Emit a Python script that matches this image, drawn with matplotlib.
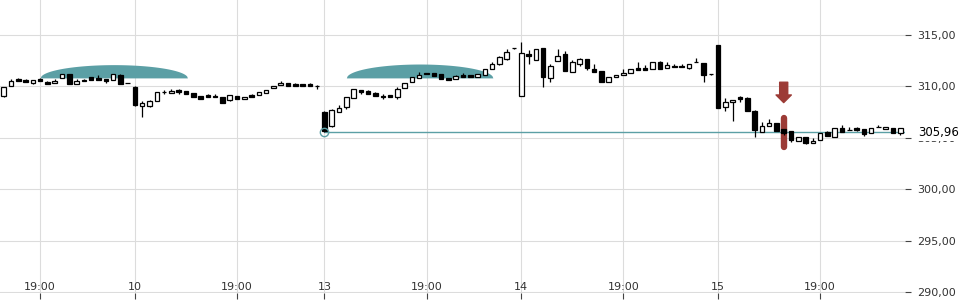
import numpy as np
import matplotlib
matplotlib.use("Agg")
import matplotlib.pyplot as plt
from matplotlib.ticker import FuncFormatter

# candle data (one row per bar, oldest first)
opens = [309.10, 310.02, 310.73, 310.66, 310.34, 310.76, 310.44, 310.30, 310.83, 311.21,
         310.21, 310.66, 310.92, 310.80, 310.73, 310.63, 311.15, 310.31, 309.98, 308.10,
         308.14, 308.60, 309.48, 309.34, 309.66, 309.56, 309.34, 309.08, 309.15, 309.08,
         308.95, 308.66, 309.08, 308.76, 309.15, 309.15, 309.40, 309.83, 310.12, 310.31,
         310.21, 310.20, 310.21, 310.08, 307.55, 306.19, 307.55, 307.98, 308.85, 309.66,
         309.56, 309.34, 309.10, 309.15, 309.01, 309.83, 310.41, 310.80, 311.31, 311.28,
         311.18, 310.80, 310.70, 311.15, 311.09, 310.95, 311.12, 311.67, 312.18, 312.70,
         313.70, 309.05, 313.16, 312.57, 313.70, 310.80, 312.45, 313.16, 311.38, 312.18,
         312.64, 311.70, 311.50, 310.41, 310.89, 311.09, 311.31, 311.80, 311.83, 311.73,
         312.35, 311.77, 311.99, 311.99, 311.80, 312.35, 312.25, 311.18, 314.03, 307.98,
         308.47, 308.98, 308.91, 307.59, 305.61, 306.14, 306.46, 305.87, 305.68, 304.71,
         305.07, 304.49, 304.81, 305.55, 305.13, 305.94, 305.81, 305.94, 305.84, 305.46,
         306.10, 305.87, 305.94, 305.46]
highs = [309.95, 310.73, 310.78, 310.68, 310.62, 310.85, 310.56, 310.70, 311.20, 311.23,
         310.70, 310.68, 310.94, 311.09, 310.75, 311.20, 311.25, 310.33, 310.00, 308.62,
         308.70, 309.50, 309.66, 309.73, 309.72, 309.58, 309.36, 309.10, 309.30, 309.24,
         308.97, 309.15, 309.10, 308.98, 309.30, 309.47, 309.69, 310.08, 310.50, 310.33,
         310.35, 310.22, 310.30, 310.10, 307.58, 307.80, 308.15, 308.95, 309.73, 309.68,
         309.66, 309.50, 309.24, 309.17, 309.90, 310.37, 310.92, 311.40, 311.33, 311.30,
         311.20, 310.82, 311.15, 311.28, 311.11, 311.18, 311.67, 312.35, 313.00, 313.64,
         313.72, 314.35, 313.50, 313.64, 313.72, 312.15, 313.64, 313.40, 312.60, 312.80,
         312.66, 312.16, 311.52, 310.92, 311.12, 311.65, 311.70, 312.35, 312.05, 312.40,
         312.45, 312.40, 312.20, 312.20, 312.21, 312.80, 312.27, 311.20, 314.05, 308.90,
         308.66, 309.10, 308.93, 307.70, 306.52, 306.85, 306.48, 305.89, 305.70, 305.13,
         305.09, 304.98, 305.51, 305.70, 305.94, 306.26, 306.05, 306.04, 305.86, 305.94,
         306.26, 306.10, 305.96, 305.94]
lows = [309.00, 310.00, 310.56, 310.41, 310.20, 310.50, 310.27, 310.30, 310.83, 310.24,
        310.21, 310.53, 310.60, 310.60, 310.37, 310.63, 310.24, 310.29, 308.10, 307.00,
        308.04, 308.58, 309.27, 309.34, 309.30, 309.24, 308.98, 308.76, 308.98, 308.98,
        308.43, 308.60, 308.82, 308.76, 308.98, 309.15, 309.40, 309.83, 310.12, 310.08,
        310.08, 310.08, 310.02, 309.76, 305.55, 306.10, 307.48, 307.78, 308.85, 309.24,
        309.24, 309.05, 308.82, 308.95, 308.82, 309.83, 310.41, 310.80, 311.18, 310.99,
        310.70, 310.60, 310.70, 310.89, 310.89, 310.95, 311.12, 311.67, 312.12, 312.55,
        313.68, 309.05, 312.16, 312.57, 309.98, 310.47, 312.45, 311.54, 311.38, 312.00,
        311.55, 311.38, 310.41, 310.41, 310.89, 311.09, 311.31, 311.63, 311.57, 311.73,
        311.73, 311.77, 311.92, 311.92, 311.68, 312.33, 310.47, 311.16, 307.88, 307.62,
        306.68, 308.50, 307.65, 305.13, 305.61, 306.14, 305.71, 305.25, 304.58, 304.71,
        304.45, 304.49, 304.81, 305.19, 305.13, 305.61, 305.78, 305.68, 305.20, 305.46,
        306.04, 305.87, 305.51, 305.30]
closes = [309.92, 310.53, 310.56, 310.41, 310.60, 310.50, 310.27, 310.50, 311.18, 310.24,
          310.56, 310.53, 310.60, 310.60, 310.56, 311.18, 310.24, 310.31, 308.20, 308.43,
          308.62, 309.47, 309.46, 309.56, 309.44, 309.24, 308.98, 308.76, 308.98, 308.98,
          308.43, 309.15, 308.82, 308.98, 308.98, 309.47, 309.69, 310.08, 310.34, 310.08,
          310.08, 310.08, 310.02, 310.02, 305.71, 307.72, 307.91, 308.95, 309.73, 309.50,
          309.24, 309.05, 308.95, 308.95, 309.76, 310.37, 310.92, 311.15, 311.18, 310.99,
          310.70, 310.60, 311.02, 310.89, 310.89, 311.18, 311.67, 312.18, 312.86, 313.37,
          313.70, 313.22, 312.93, 313.64, 310.95, 311.99, 312.96, 311.54, 312.35, 312.64,
          311.77, 311.38, 310.41, 310.92, 311.12, 311.31, 311.70, 311.63, 311.57, 312.35,
          311.73, 312.09, 311.92, 311.92, 312.21, 312.33, 311.15, 311.18, 307.88, 308.47,
          308.66, 308.76, 307.65, 305.78, 306.17, 306.49, 305.71, 305.46, 304.81, 305.13,
          304.54, 304.74, 305.51, 305.19, 305.94, 305.61, 305.78, 305.78, 305.39, 305.94,
          306.04, 306.10, 305.51, 305.94]

tick_idx = [5, 18, 32, 44, 58, 71, 85, 98, 112]
tick_lbl = ["19:00", "10", "19:00", "13", "19:00", "14", "19:00", "15", "19:00"]

# annotations
clouds = [(5, 25.2, 310.83, 312.12), (47, 67.1, 310.83, 312.18)]
support_idx = 44
support_level = lows[support_idx]
last_label = "305,96"
signal_idx = 107

teal = "#5b9fa5"
red = "#9c3b36"

fig = plt.figure(figsize=(9.6, 3), dpi=100)
ax = fig.add_axes([0, 0.0223, 0.9427, 0.9777])

x = np.arange(len(opens))
o = np.array(opens)
c = np.array(closes)
up = c >= o

# clouds
for x0, x1, base, top in clouds:
    xs = np.linspace(x0, x1, 200)
    mid = (x0 + x1) / 2
    half = (x1 - x0) / 2
    ys = base + (top - base) * np.sqrt(np.clip(1 - ((xs - mid) / half) ** 2, 0, 1))
    ax.fill_between(xs, base, ys, color=teal, lw=0, zorder=1)

# support line
ax.hlines(support_level, support_idx, 130, color=teal, lw=1, zorder=2)
ax.plot(support_idx, support_level, "o", ms=6, mfc="none", mec=teal, mew=1, zorder=5)

# signal marker
ax.plot([signal_idx, signal_idx], [304.12, 306.94], color=red, lw=4.6,
        solid_capstyle="round", zorder=2)
ax.annotate("", xy=(signal_idx, 308.43), xytext=(signal_idx, 310.41),
            arrowprops=dict(arrowstyle="simple,head_length=0.55,head_width=1.1,tail_width=0.58",
                            color=red, shrinkA=0, shrinkB=0, mutation_scale=10), zorder=3)

# candles
ax.vlines(x, lows, highs, color="black", lw=0.9, zorder=3)
ax.bar(x, c - o, bottom=o, width=0.62, color=np.where(up, "white", "black"),
       edgecolor="black", linewidth=0.9, zorder=4)

ax.set_xlim(-0.51, 123.64)
ax.set_ylim(289.9, 318.4)
ax.set_yticks([290, 295, 300, 305, 310, 315])
ax.yaxis.set_major_formatter(FuncFormatter(lambda v, p: f"{v:.2f}".replace(".", ",")))
ax.yaxis.tick_right()
ax.set_xticks(tick_idx)
ax.set_xticklabels(tick_lbl)

ax.grid(True, color="#dcdcdc", lw=0.8, zorder=0)
ax.set_axisbelow(True)
for s in ax.spines.values():
    s.set_visible(False)
ax.tick_params(axis="x", direction="out", length=4, width=0.8, color="#444444",
               pad=-12, labelsize=8, labelcolor="#333333")
ax.tick_params(axis="y", direction="out", length=4, width=0.8, color="#444444",
               pad=5, labelsize=8, labelcolor="#333333")

# last price label
ax.text(1.0, support_level, last_label, transform=ax.get_yaxis_transform(),
        ha="left", va="center", fontsize=8.5, color="black",
        bbox=dict(facecolor="white", edgecolor="none", pad=1.5), clip_on=False)
# keep the label clear of the axes edge
ax.texts[-1].set_x(1.0145)

fig.savefig("out.png", dpi=100)
